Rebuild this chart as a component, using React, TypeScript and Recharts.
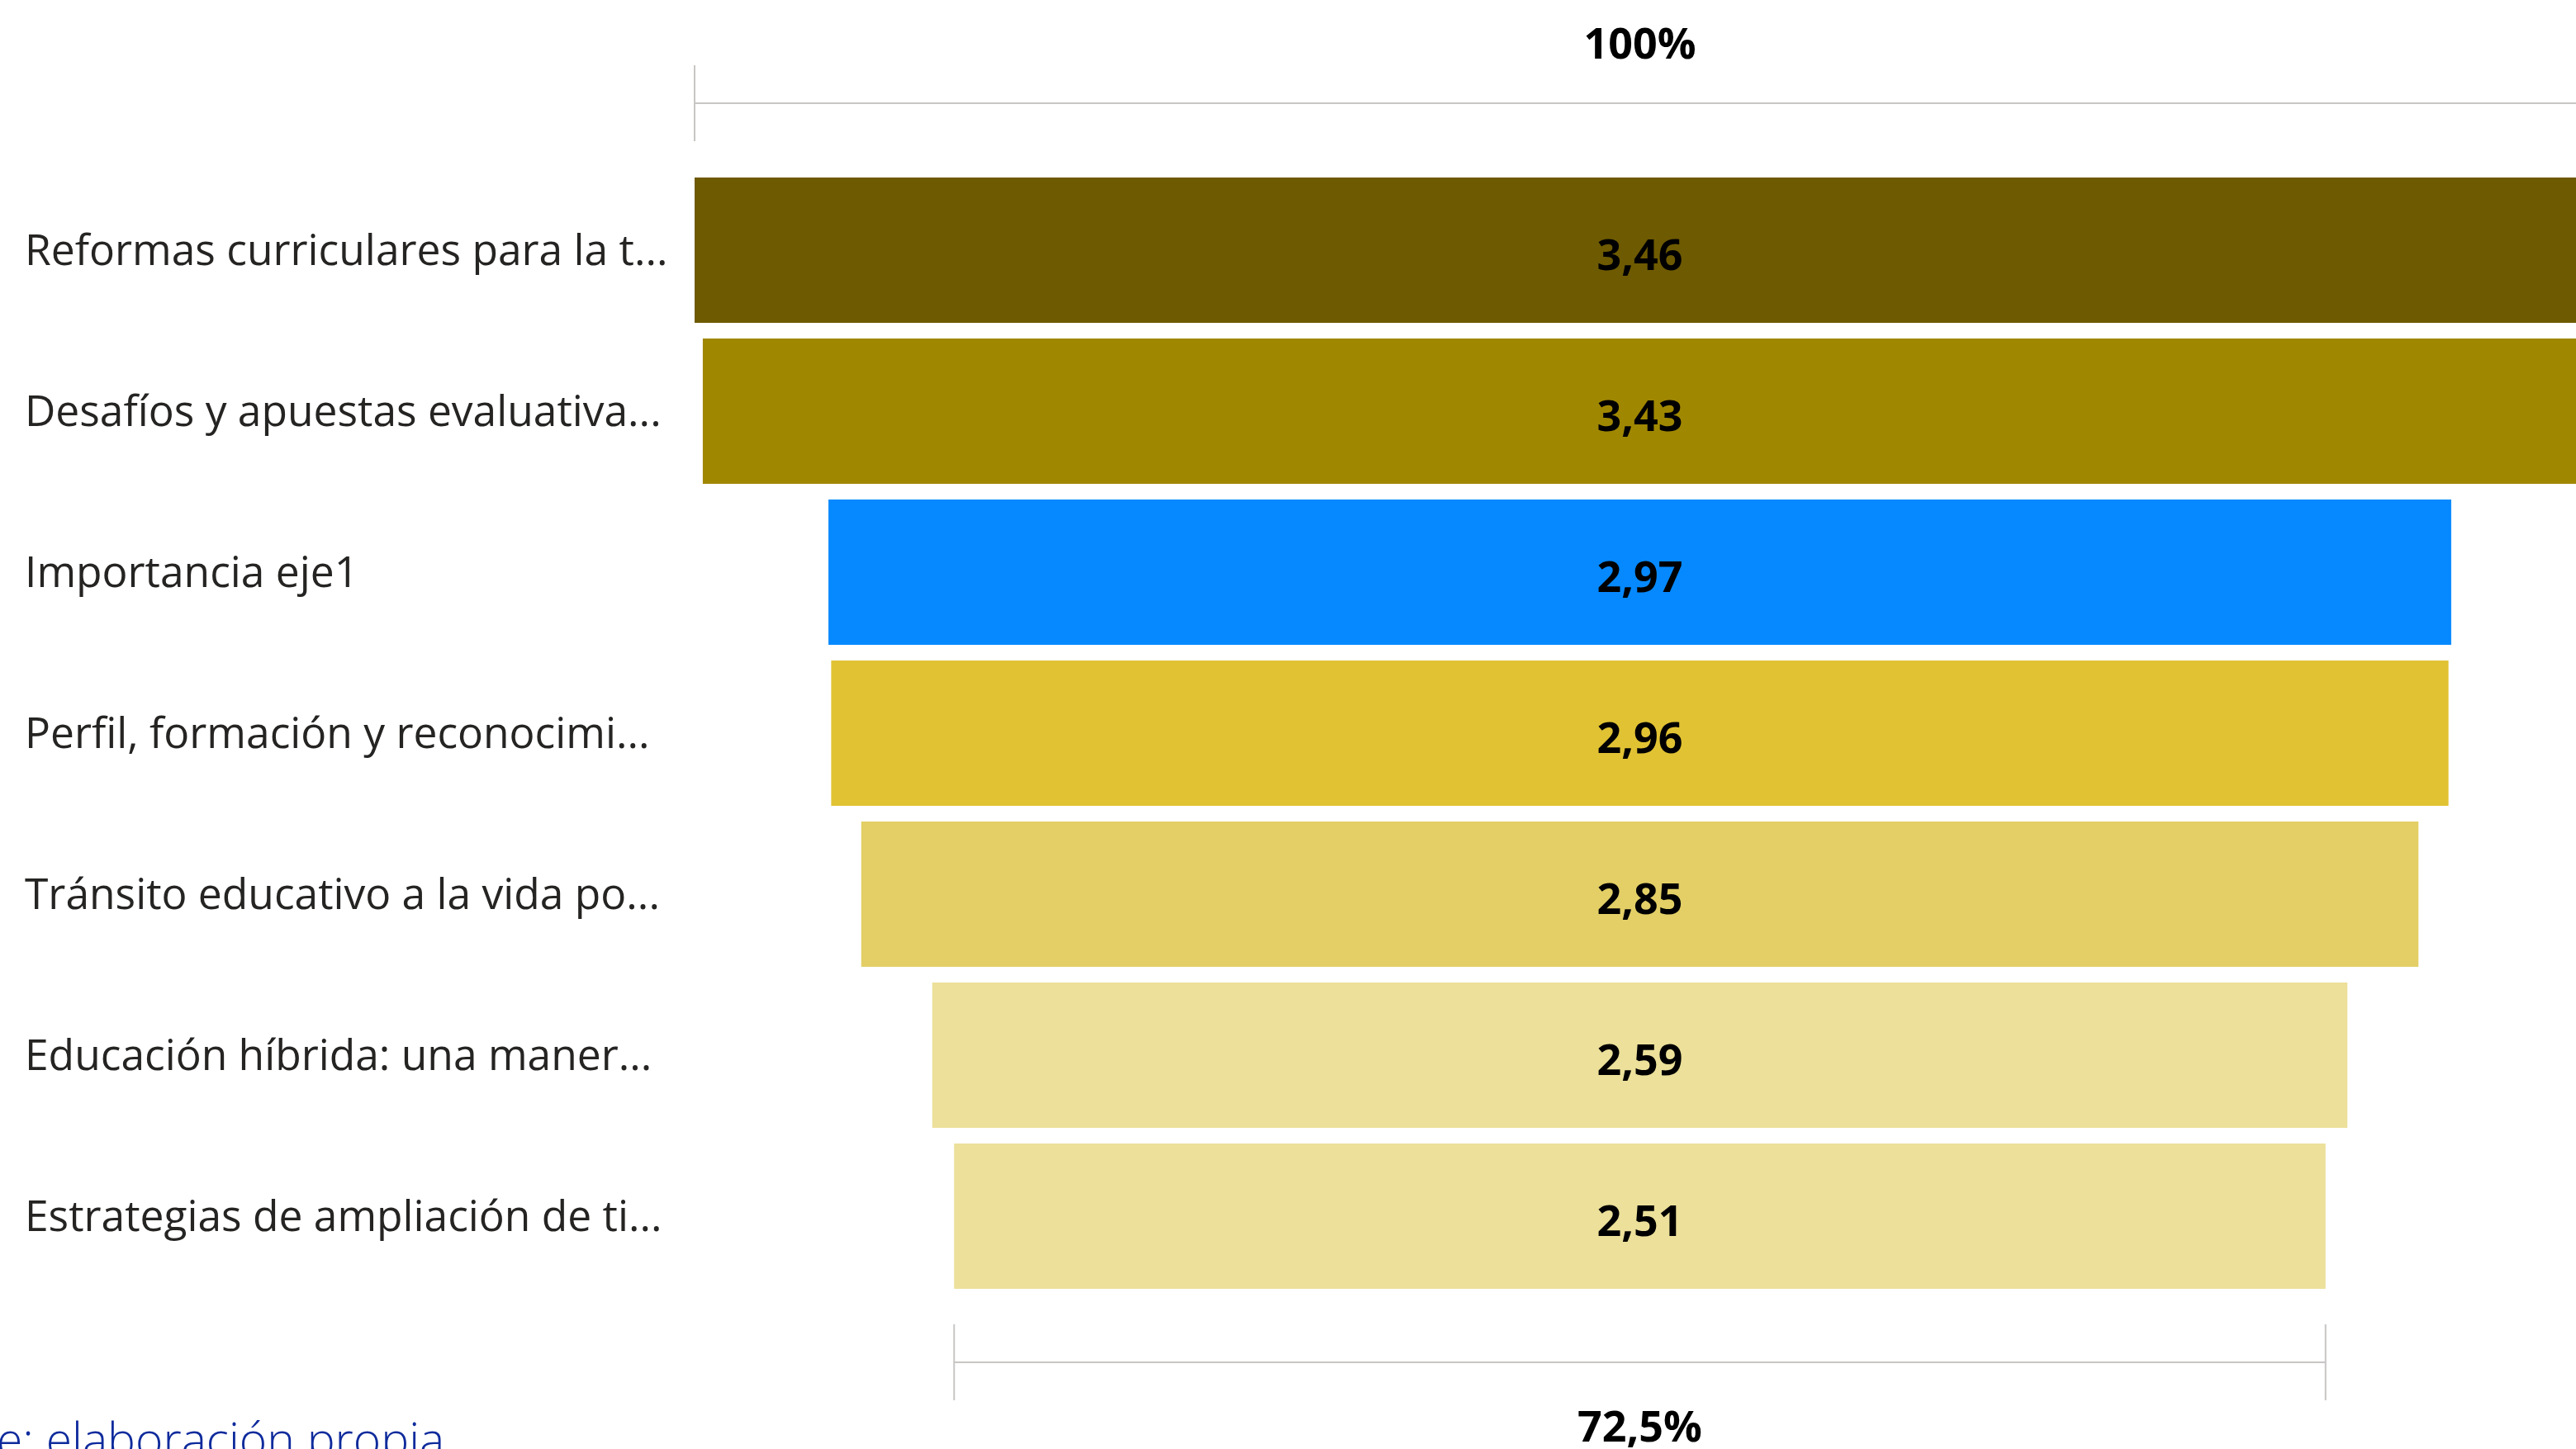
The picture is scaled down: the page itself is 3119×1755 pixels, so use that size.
import React from "react";
import { BarChart, Bar, XAxis, YAxis, Cell, LabelList, ReferenceLine } from "recharts";

const categories = [
  "Reformas curriculares para la t...",
  "Desafíos y apuestas evaluativa...",
  "Importancia eje1",
  "Perfil, formación y reconocimi...",
  "Tránsito educativo a la vida po...",
  "Educación híbrida: una maner...",
  "Estrategias de ampliación de ti...",
];
const values = [3.46, 3.43, 2.97, 2.96, 2.85, 2.59, 2.51];
const colors = ["#6E5A00", "#A08700", "#0689FF", "#E1C233", "#E3CF66", "#ECE09A", "#ECE09A"];
const bracketLabels = ["100%", "72,5%"];
const sourceText = "e: elaboración propia";

const maxV = Math.max(...values);
const data = categories.map((name, i) => ({
  name,
  pad: (maxV - values[i]) / 2,
  value: values[i],
}));

const FONT = "'Open Sans', 'Noto Sans', sans-serif";
const fmt = (v: number) => v.toFixed(2).replace(".", ",");

const CategoryTick = (props: any) => {
  const { y, payload } = props;
  return (
    <text x={30} y={y} dy={18} textAnchor="start" fontFamily={FONT} fontSize={51.5} fill="#252423">
      {payload.value}
    </text>
  );
};

const makeBracket = (label: string, lineOffset: number, textOffset: number) => (p: any) => {
  const { x1, x2, y1 } = p;
  const y = y1 + lineOffset;
  const stroke = "#C8C6C4";
  return (
    <g>
      <line x1={x1} x2={x2} y1={y} y2={y} stroke={stroke} strokeWidth={2} />
      <line x1={x1} x2={x1} y1={y - 46} y2={y + 46} stroke={stroke} strokeWidth={2} />
      <line x1={x2} x2={x2} y1={y - 46} y2={y + 46} stroke={stroke} strokeWidth={2} />
      <text x={(x1 + x2) / 2} y={y + textOffset} textAnchor="middle" fontFamily={FONT} fontWeight={700} fontSize={52} fill="#000">
        {label}
      </text>
    </g>
  );
};

const last = data.length - 1;

export default function App() {
  return (
    <div style={{ position: "absolute", left: 0, top: 0, width: 3119, height: 1755, overflow: "hidden", background: "#fff" }}>
      <BarChart
        width={3130}
        height={1755}
        data={data}
        layout="vertical"
        margin={{ top: 205, right: 0, bottom: 185, left: 0 }}
      >
        <XAxis type="number" domain={[0, maxV]} hide />
        <YAxis
          type="category"
          dataKey="name"
          width={841}
          axisLine={false}
          tickLine={false}
          tick={<CategoryTick />}
          interval={0}
        />
        <Bar dataKey="pad" stackId="f" fill="transparent" barSize={176} isAnimationActive={false} />
        <Bar dataKey="value" stackId="f" barSize={176} isAnimationActive={false}>
          {data.map((d, i) => (
            <Cell key={d.name} fill={colors[i]} />
          ))}
          <LabelList
            dataKey="value"
            position="center"
            formatter={(v: any) => fmt(Number(v))}
            fill="#000"
            fontFamily={FONT}
            fontWeight={700}
            fontSize={52}
            dy={6}
          />
        </Bar>
        <ReferenceLine
          ifOverflow="visible"
          segment={[
            { x: data[0].pad, y: data[0].name },
            { x: data[0].pad + data[0].value, y: data[0].name },
          ]}
          shape={makeBracket(bracketLabels[0], -177.5, -54)}
        />
        <ReferenceLine
          ifOverflow="visible"
          segment={[
            { x: data[last].pad, y: data[last].name },
            { x: data[last].pad + data[last].value, y: data[last].name },
          ]}
          shape={makeBracket(bracketLabels[1], 177.5, 96)}
        />
      </BarChart>
      <svg style={{ position: "absolute", left: 0, top: 0, pointerEvents: "none" }} width={3119} height={1755}>
        <text x={-4} y={1764} fontFamily={FONT} fontWeight={300} fontSize={57} fill="#0F2B9C">
          {sourceText}
        </text>
      </svg>
    </div>
  );
}
